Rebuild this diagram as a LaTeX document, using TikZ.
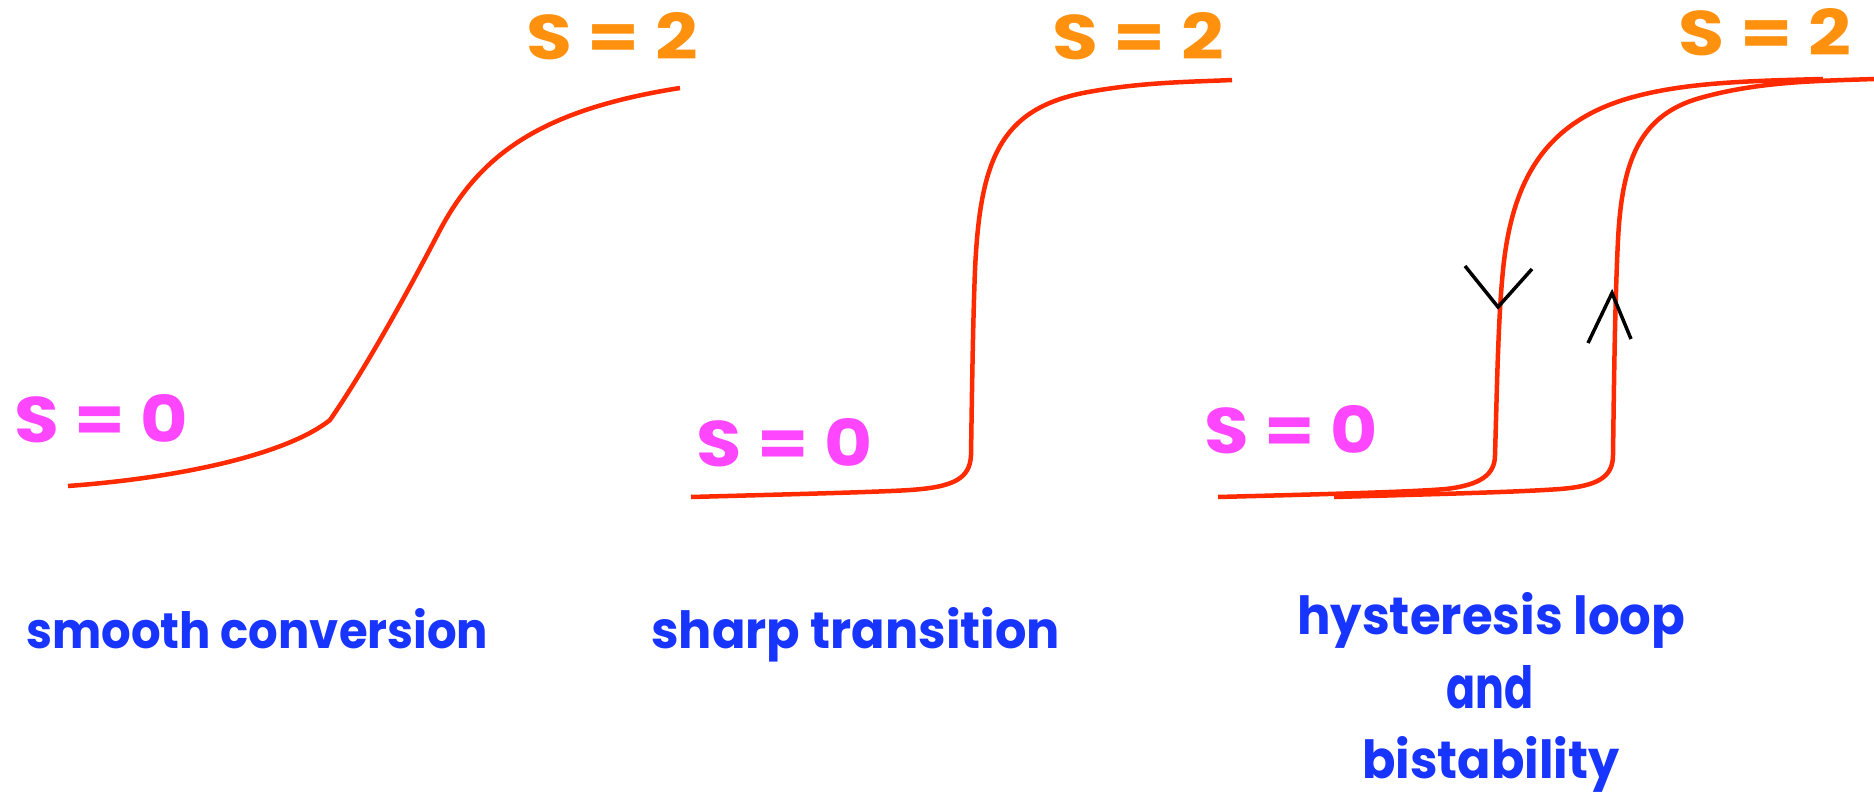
\documentclass[tikz,border=0pt]{standalone}
\usepackage{fontspec}
\setmainfont{Poppins}
\definecolor{curvered}{RGB}{255,42,0}
\definecolor{lblorange}{RGB}{255,145,15}
\definecolor{lblpink}{RGB}{255,70,255}
\definecolor{lblblue}{RGB}{24,52,255}
\tikzset{
  curve/.style={draw=curvered, line width=4.5pt},
  arrowmark/.style={draw=black, line width=3.5pt},
  toplbl/.style={text=lblorange, inner sep=0pt, anchor=base west, font=\bfseries},
  botlbl/.style={text=lblpink, inner sep=0pt, anchor=base west, font=\bfseries},
  caption/.style={text=lblblue, inner sep=0pt, anchor=base west, font=\bfseries},
}
\begin{document}
\begin{tikzpicture}[x=1pt, y=-1pt]
\useasboundingbox (0,0) rectangle (1874,794);

% ---------- panel 1 ----------
\node[toplbl] (p1hi) at (526,60) {\resizebox{172pt}{47pt}{S = 2}};
\node[botlbl] (p1lo) at (14,442) {\resizebox{174pt}{48pt}{S = 0}};
\coordinate (c1a) at (68,486);
\coordinate (c1b) at (330,420);
\coordinate (c1c) at (440,230);
\coordinate (c1d) at (680,88);
\draw[curve] (c1a) .. controls (190,477) and (290,452) .. (c1b)
  .. controls (370,362) and (415,278) .. (c1c)
  .. controls (480,155) and (540,110) .. (c1d);

% ---------- panel 2 ----------
\node[toplbl] (p2hi) at (1052,60) {\resizebox{172pt}{47pt}{S = 2}};
\node[botlbl] (p2lo) at (696,466) {\resizebox{176pt}{48pt}{S = 0}};
\coordinate (c2a) at (691,497);
\coordinate (c2b) at (910,490);
\coordinate (c2c) at (971,455);
\coordinate (c2d) at (975,270);
\coordinate (c2e) at (1083,93);
\coordinate (c2f) at (1232,80);
\draw[curve] (c2a) .. controls (800,494) and (880,492) .. (c2b)
  .. controls (955,487) and (970,478) .. (c2c)
  .. controls (972,390) and (973,320) .. (c2d)
  .. controls (980,160) and (1000,110) .. (c2e)
  .. controls (1140,82) and (1190,82) .. (c2f);

% ---------- panel 3 ----------
\node[toplbl] (p3hi) at (1678,56) {\resizebox{173pt}{47pt}{S = 2}};
\node[botlbl] (p3lo) at (1204,453) {\resizebox{173pt}{48pt}{S = 0}};
% left branch (downward)
\coordinate (c3a) at (1218,497);
\coordinate (c3b) at (1446,489);
\coordinate (c3c) at (1495,455);
\coordinate (c3d) at (1503,270);
\coordinate (c3e) at (1623,100);
\coordinate (c3f) at (1823,79);
\draw[curve] (c3a) .. controls (1330,494) and (1410,492) .. (c3b)
  .. controls (1480,485) and (1495,475) .. (c3c)
  .. controls (1497,390) and (1498,320) .. (c3d)
  .. controls (1512,180) and (1545,125) .. (c3e)
  .. controls (1680,82) and (1750,81) .. (c3f);
% right branch (upward)
\coordinate (c4a) at (1334,497);
\coordinate (c4b) at (1560,489);
\coordinate (c4c) at (1613,455);
\coordinate (c4d) at (1618,240);
\coordinate (c4e) at (1700,98);
\coordinate (c4f) at (1874,79);
\draw[curve] (c4a) .. controls (1440,494) and (1520,492) .. (c4b)
  .. controls (1598,486) and (1613,477) .. (c4c)
  .. controls (1614,380) and (1615,300) .. (c4d)
  .. controls (1622,160) and (1640,115) .. (c4e)
  .. controls (1760,81) and (1820,81) .. (c4f);
% direction marks
\coordinate (dnL) at (1465,266);
\coordinate (dnV) at (1498,307);
\coordinate (dnR) at (1532,269);
\draw[arrowmark] (dnL) -- (dnV) -- (dnR);
\coordinate (upL) at (1588,343);
\coordinate (upV) at (1612,293);
\coordinate (upR) at (1631,339);
\draw[arrowmark] (upL) -- (upV) -- (upR);

% ---------- captions ----------
\node[caption] (cap1) at (26,648) {\resizebox{462pt}{40pt}{smooth conversion}};
\node[caption] (cap2) at (651,648) {\resizebox{409pt}{41pt}{sharp transition}};
\node[caption] (cap3a) at (1297,634) {\resizebox{388pt}{42pt}{hysteresis loop}};
\node[caption] (cap3b) at (1446,708) {\resizebox{87pt}{43pt}{and}};
\node[caption] (cap3c) at (1362,778) {\resizebox{257pt}{42pt}{bistability}};
\end{tikzpicture}
\end{document}
